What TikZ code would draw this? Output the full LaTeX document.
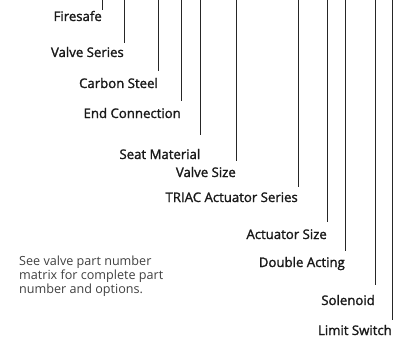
\documentclass[tikz,border=0pt]{standalone}
\usepackage{fontspec}
\setmainfont{Open Sans}
\newfontfamily\labfont{Open Sans}[FakeBold=1.6]
\begin{document}
\begin{tikzpicture}[x=1pt,y=-1pt,
  lab/.style={anchor=base east,inner sep=0pt,font=\labfont\fontsize{13.2}{15}\selectfont,text=black!90},
  lead/.style={line width=0.9pt,draw=black!85},
  note/.style={anchor=north west,inner sep=0pt,align=left,font=\fontsize{12.6}{12.2}\selectfont,text=black!75}]
\useasboundingbox (0,0) rectangle (399,337);
\coordinate (t1) at (102,0); \coordinate (t2) at (124,0); \coordinate (t3) at (158,0);
\coordinate (t4) at (181,0); \coordinate (t5) at (200.5,0); \coordinate (t6) at (236,0);
\coordinate (t7) at (298,0); \coordinate (t8) at (327,0); \coordinate (t9) at (345,0);
\coordinate (t10) at (375,0); \coordinate (t11) at (392,0);
\node[lab] (l1) at (102,21) {Firesafe};
\node[lab] (l2) at (124,57) {Valve Series};
\node[lab] (l3) at (158,88) {Carbon Steel};
\node[lab] (l4) at (181,118) {End Connection};
\node[lab] (l5) at (200.5,159) {Seat Material};
\node[lab] (l6) at (236,177) {Valve Size};
\node[lab] (l7) at (298,202) {TRIAC Actuator Series};
\node[lab] (l8) at (327,239) {Actuator Size};
\node[lab] (l9) at (345,267) {Double Acting};
\node[lab] (l10) at (375,305) {Solenoid};
\node[lab] (l11) at (392,335) {Limit Switch};
\coordinate (e1) at (102,10); \coordinate (e2) at (124,43); \coordinate (e3) at (158,71);
\coordinate (e4) at (181,101); \coordinate (e5) at (200.5,135); \coordinate (e6) at (236,161);
\coordinate (e7) at (298,187); \coordinate (e8) at (327,222); \coordinate (e9) at (345,251);
\coordinate (e10) at (375,285); \coordinate (e11) at (392,320);
\foreach \i in {1,...,11} {\draw[lead] (t\i) -- (e\i);}
\node[note] (n) at (19,256) {See valve part number\\matrix for complete part\\number and options.};
\end{tikzpicture}
\end{document}
